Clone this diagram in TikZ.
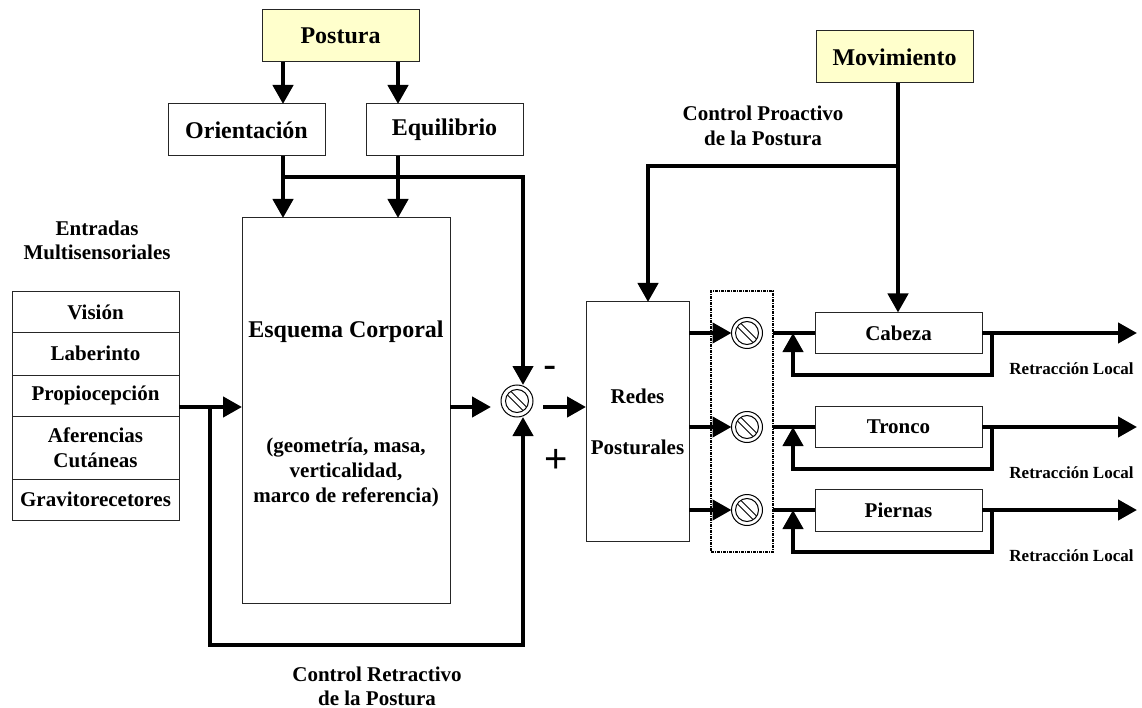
\documentclass[tikz,border=0pt]{standalone}
\usepackage{fontspec}
\setmainfont{Liberation Serif}
\newfontfamily\signfont{Liberation Sans}
\usetikzlibrary{arrows.meta,calc}
\definecolor{goalfill}{HTML}{FFFFCC}

\begin{document}
\begin{tikzpicture}[x=1pt,y=-1pt,
  every node/.style={inner sep=0pt,outer sep=0pt},
  box/.style={draw=black!85,line width=1pt,fill=white,align=center},
  goal/.style={box,fill=goalfill},
  big/.style={font=\bfseries\fontsize{24}{28}\selectfont},
  mid/.style={font=\bfseries\fontsize{21}{25}\selectfont},
  small/.style={font=\bfseries\fontsize{17}{20}\selectfont},
  txt/.style={align=center},
  sign/.style={font=\signfont\fontsize{40}{40}\selectfont},
  flow/.style={line width=4.3pt,-{Triangle[length=19pt,width=20pt]}},
  wire/.style={line width=4.3pt},
  dashbox/.style={draw=black,line width=1.1pt,dash pattern=on 3pt off 1pt on 1pt off 1pt},
  sumnode/.style={circle,draw=black,line width=1pt,minimum size=#1,fill=white,
    path picture={
      \draw[line width=1pt] (path picture bounding box.center) circle (11.5pt);
      \draw[line width=0.9pt]
        ([shift={(-5.8pt,9.3pt)}]path picture bounding box.center) --
        ([shift={(9.3pt,-5.8pt)}]path picture bounding box.center);
      \draw[line width=0.9pt]
        ([shift={(-9.3pt,5.8pt)}]path picture bounding box.center) --
        ([shift={(5.8pt,-9.3pt)}]path picture bounding box.center);
    }},
]
\useasboundingbox (0,0) rectangle (1142,708);

% --- top goal and its two components
\node[goal,big,minimum width=157pt,minimum height=52pt] (postura) at (340.5,36) {Postura};
\node[box,big,minimum width=157pt,minimum height=52pt] (orient) at (246.5,130) {Orientación};
\node[box,big,minimum width=157pt,minimum height=52pt] (equil) at (444.5,130) {Equilibrio};

% --- body schema
\node[box,minimum width=208pt,minimum height=385pt] (esq) at (346,410.5) {};
\node[big] (esqtitle) at (346,332) {Esquema Corporal};
\node[mid,txt] (esqsub) at (346,472) {(geometría, masa,\\verticalidad,\\marco de referencia)};

% --- multisensory inputs
\node[mid,txt,font=\bfseries\fontsize{21}{24}\selectfont] (inlabel) at (97,240) {Entradas\\Multisensoriales};
\node[box,mid,minimum width=167pt,minimum height=40pt] (vis) at (95.5,312) {Visión};
\node[box,mid,minimum width=167pt,minimum height=43pt] (lab) at (95.5,353.5) {Laberinto};
\node[box,mid,minimum width=167pt,minimum height=41pt] (prop) at (95.5,395.5) {Propiocepción};
\node[box,mid,minimum width=167pt,minimum height=63pt] (afe) at (95.5,447.5) {Aferencias\\Cutáneas};
\node[box,mid,minimum width=167pt,minimum height=41pt] (gra) at (95.5,499.5) {Gravitorecetores};

% --- comparator
\coordinate (sumax) at (523,407);
\node[sumnode=32pt] (sum) at (517,401) {};
\node[sign] (minus) at (550,372) {-};
\node[sign] (plus) at (556,461) {+};

% --- postural networks
\node[box,mid,minimum width=103pt,minimum height=239pt] (redes) at (637.5,421.5) {Redes\\[26pt]Posturales};
\node[dashbox,minimum width=62pt,minimum height=261pt] (grp) at (742,421.5) {};

% --- movement goal
\node[goal,big,minimum width=157pt,minimum height=52pt] (mov) at (894.5,57) {Movimiento};
\node[mid,txt,font=\bfseries\fontsize{21}{25}\selectfont] (proact) at (763,125.5) {Control Proactivo\\de la Postura};
\node[mid,txt,font=\bfseries\fontsize{21}{24}\selectfont] (retract) at (377,686) {Control Retractivo\\de la Postura};

% --- effectors
\node[box,mid,minimum width=167pt,minimum height=41pt] (cab) at (898.5,333) {Cabeza};
\node[box,mid,minimum width=167pt,minimum height=41pt] (tro) at (898.5,427) {Tronco};
\node[box,mid,minimum width=167pt,minimum height=42pt] (pie) at (898.5,510) {Piernas};

\node[sumnode=31pt] (c1) at (747,333) {};
\node[sumnode=31pt] (c2) at (747,427) {};
\node[sumnode=31pt] (c3) at (747,510) {};

\node[small] (rl1) at (1071.5,369) {Retracción Local};
\node[small] (rl2) at (1071.5,473) {Retracción Local};
\node[small] (rl3) at (1071.5,556) {Retracción Local};

% --- helper coordinates for branch points and free ends
\coordinate (xo) at (283,0);
\coordinate (xe) at (398,0);
\coordinate (br) at (283,177);
\coordinate (fbl) at (210,645);
\coordinate (mx) at (898,166);
\coordinate (px) at (648,166);
\coordinate (o1) at (1137,333);
\coordinate (o2) at (1137,427);
\coordinate (o3) at (1137,510);

% --- connectors, left half
\draw[flow] (postura.south -| xo) -- (orient.north -| xo);
\draw[flow] (postura.south -| xe) -- (equil.north -| xe);
\draw[flow] (orient.south -| xo) -- (esq.north -| xo);
\draw[flow] (equil.south -| xe) -- (esq.north -| xe);
\draw[flow] (br) -- (sumax |- br) -- (sumax |- sum.north);
\draw[flow] (prop.east |- sumax) -- (esq.west |- sumax);
\draw[flow] (fbl |- sumax) -- (fbl) -- (sumax |- fbl) -- (sumax |- sum.south);
\draw[flow] (esq.east |- sumax) -- ($(sum.west |- sumax)+(-10,0)$);
\draw[flow] ($(sum.east |- sumax)+(10,0)$) -- (redes.west |- sumax);

% --- connectors, right half
\draw[flow] (mov.south -| mx) -- (cab.north -| mx);
\draw[flow] (mx) -- (px) -- (redes.north -| px);

\foreach \c/\b/\o in {c1/cab/o1,c2/tro/o2,c3/pie/o3}{
  \draw[flow] (redes.east |- \c) -- (\c.west);
  \draw[wire] (grp.east |- \c) -- (\b.west);
  \draw[flow] (\b.east) -- (\o);
  \draw[flow] ($(\b.east)+(10,0)$) -- ++(0,42) -| ($(\b.west)+(-22,0)$);
}
\end{tikzpicture}
\end{document}
